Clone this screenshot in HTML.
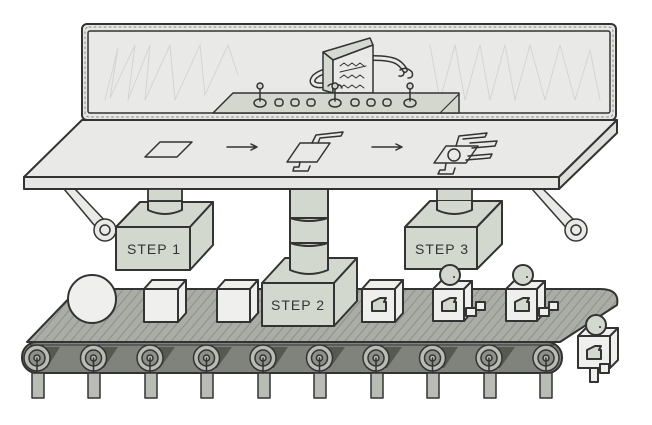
<!DOCTYPE html>
<html><head><meta charset="utf-8"><style>
html,body{margin:0;padding:0;background:#fff;width:652px;height:425px;overflow:hidden}
svg{display:block}
</style></head><body>
<svg width="652" height="425" viewBox="0 0 652 425" xmlns="http://www.w3.org/2000/svg" stroke="#333" stroke-width="1.5" stroke-linejoin="round" stroke-linecap="round">
<defs>
<pattern id="hatch" width="7" height="7" patternUnits="userSpaceOnUse" patternTransform="rotate(40)">
<rect width="7" height="7" fill="#a9ada5" stroke="none"/>
<line x1="0" y1="0" x2="0" y2="7" stroke="#8c9089" stroke-width="2"/>
</pattern>
</defs>
<!-- screen -->
<rect x="82" y="24" width="534" height="96" rx="5" fill="#e6e7e4" stroke-width="2"/>
<rect x="85" y="27" width="528" height="90" rx="4" fill="none" stroke="#888" stroke-dasharray="2 3" stroke-width="1"/>
<rect x="88" y="31" width="522" height="82" rx="2" fill="#e9eae7" stroke-width="1.5"/>
<path d="M105,100 L118,48 L110,98 L135,45 L128,100 L150,45 L145,100 L170,45 L175,100 L200,45 L205,95 L228,45 L238,75 M430,45 L440,100 L455,45 L465,100 L480,45 L490,100 L505,45 L515,100 L530,45 L545,100 L560,45 L575,100 L590,50 L600,100" fill="none" stroke="#d3d5d1" stroke-width="1"/>
<!-- screen robot -->
<path d="M333,70 C310,72 305,88 325,85 L336,88" fill="none" stroke-width="6"/>
<path d="M333,70 C310,72 305,88 325,85 L336,88" fill="none" stroke="#e9eae7" stroke-width="3"/>
<path d="M373,58 C395,58 400,62 405,70" fill="none" stroke-width="6"/>
<path d="M373,58 C395,58 400,62 405,70" fill="none" stroke="#e9eae7" stroke-width="3"/>
<path d="M400,70 q6,-4 12,2 q2,6 -4,6 M404,72 q0,5 -5,4" fill="none" stroke-width="1.5"/>
<polygon points="323,52 370,38 373,45 333,60" fill="#d6d9d2"/>
<polygon points="323,52 333,60 333,93 323,90" fill="#d6d9d2"/>
<polygon points="333,60 373,45 373,93 333,93" fill="#e9eae7"/>
<path d="M340,66 l4,-3 4,3 4,-3 4,3 4,-3 4,3 M340,78 l4,-3 4,3 4,-3 4,3 4,-3 4,3 M340,88 l4,-3 4,3 4,-3 4,3 4,-3 4,3 M340,72 L366,66" fill="none" stroke-width="1"/>
<path d="M328,86 q4,-4 8,0 q4,-3 6,2" fill="#e9eae7" stroke-width="1.5"/>
<!-- console -->
<polygon points="233,93 459,93 459,113 213,113" fill="#d3d7ce"/>
<line x1="440" y1="113" x2="459" y2="94" stroke-width="1.2"/>
<g fill="#d3d7ce">
<ellipse cx="260" cy="103" rx="6" ry="4"/><line x1="260" y1="101" x2="260" y2="89"/><circle cx="260" cy="86" r="3"/>
<ellipse cx="335" cy="103" rx="6" ry="4"/><line x1="335" y1="101" x2="335" y2="89"/><circle cx="335" cy="86" r="3"/>
<ellipse cx="410" cy="103" rx="6" ry="4"/><line x1="410" y1="101" x2="410" y2="89"/><circle cx="410" cy="86" r="3"/>
<rect x="275" y="99" width="8" height="7" rx="3"/><rect x="291" y="99" width="8" height="7" rx="3"/><rect x="307" y="99" width="8" height="7" rx="3"/>
<rect x="351" y="99" width="8" height="7" rx="3"/><rect x="367" y="99" width="8" height="7" rx="3"/><rect x="383" y="99" width="8" height="7" rx="3"/>
</g>
<!-- rods -->
<polygon points="64,189 75,189 110,226 100,232" fill="#e9eae7" stroke="none"/>
<path d="M64,189 L100,232 M75,189 L110,226" fill="none"/>
<circle cx="105" cy="230" r="11" fill="#e9eae7"/><circle cx="105" cy="230" r="5" fill="#e9eae7"/>
<polygon points="532,189 543,189 580,226 570,232" fill="#e9eae7" stroke="none"/>
<path d="M532,189 L570,232 M543,189 L580,226" fill="none"/>
<circle cx="576" cy="230" r="11" fill="#e9eae7"/><circle cx="576" cy="230" r="5" fill="#e9eae7"/>
<!-- table top -->
<polygon points="82,120 617,120 559,177 24,177" fill="#e9eae7" stroke-width="2"/>
<rect x="24" y="177" width="535" height="12" fill="#e6e7e4" stroke-width="2"/>
<polygon points="559,177 617,120 617,133 559,189" fill="#dfe0dc" stroke-width="2"/>
<!-- table icons -->
<polygon points="160,142 192,142 177,157 145,157" fill="none"/>
<path d="M227,147 L257,147 M251,144 L257,147 L251,150" fill="none"/>
<polygon points="300,143 330,143 317,162 287,162" fill="none"/>
<path d="M312,143 L316,135 L343,132 L341,136 L320,138 L318,143 M300,162 L299,167 L294,167 L293,171 L308,171 L310,166" fill="none"/>
<path d="M372,147 L402,147 M396,144 L402,147 L396,150" fill="none"/>
<polygon points="446,146 478,146 466,163 434,163" fill="none"/>
<circle cx="454" cy="155" r="6" fill="none"/><path d="M470,143 L497,141 L495,146 L472,148 M468,156 L492,154 L490,158 L466,160 M456,146 L459,136 L487,133 L485,137 L463,139 M446,163 L445,170 L440,170 L438,174 L453,174 L455,168" fill="none"/>
<!-- pistons -->
<g fill="#d3d8cf" stroke-width="1.8">
<rect x="148" y="189" width="34" height="12"/><path d="M148,201 L182,201 L182,210 Q165,218 148,210 Z"/>
<rect x="437" y="189" width="35" height="12"/><path d="M437,201 L472,201 L472,210 Q454,218 437,210 Z"/>
</g>
<!-- step boxes -->
<g fill="#d3d8cf" stroke-width="2">
<polygon points="116,227 140,202 213,202 190,227"/><polygon points="190,227 213,202 213,245 190,270"/><rect x="116" y="227" width="74" height="43"/>
<path d="M148,202 L148,210 Q165,218 182,210 L182,202" fill="#d3d8cf"/>
<polygon points="405,227 430,201 502,201 477,227"/><polygon points="477,227 502,201 502,244 477,269"/><rect x="405" y="227" width="72" height="42"/>
<path d="M437,201 L437,210 Q454,218 472,210 L472,201" fill="#d3d8cf"/>
</g>
<!-- conveyor -->
<path d="M78,289 L600,289 Q620,289 617,305 L560,342 L27,342 Z" fill="url(#hatch)" stroke-width="2"/>
<rect x="22" y="342" width="540" height="31" rx="15" fill="#7f837c" stroke-width="2"/>
<line x1="30" y1="345" x2="555" y2="345" stroke-width="1"/>
<g fill="#55594f" stroke="none">
<polygon points="45,347 60,347 47,368 40,368"/><polygon points="102,347 118,347 104,368 97,368"/><polygon points="158,347 175,347 160,368 153,368"/><polygon points="215,347 232,347 217,368 210,368"/><polygon points="272,347 288,347 274,368 267,368"/><polygon points="328,347 345,347 330,368 323,368"/><polygon points="385,347 402,347 387,368 380,368"/><polygon points="442,347 458,347 444,368 437,368"/><polygon points="498,347 515,347 500,368 493,368"/>
</g>
<g fill="#b9bcb4" stroke-width="1.5">
<rect x="32" y="373" width="12" height="25"/><rect x="88" y="373" width="12" height="25"/><rect x="145" y="373" width="12" height="25"/><rect x="201" y="373" width="12" height="25"/><rect x="258" y="373" width="12" height="25"/><rect x="314" y="373" width="12" height="25"/><rect x="371" y="373" width="12" height="25"/><rect x="427" y="373" width="12" height="25"/><rect x="484" y="373" width="12" height="25"/><rect x="540" y="373" width="12" height="25"/>
</g>
<g fill="#b9bcb4" stroke-width="1.5">
<g transform="translate(37,358)"><circle r="13"/><circle r="8" fill="#8d9189"/><circle r="3"/><line x1="0" y1="0" x2="0" y2="15"/></g>
<g transform="translate(93.5,358)"><circle r="13"/><circle r="8" fill="#8d9189"/><circle r="3"/><line x1="0" y1="0" x2="0" y2="15"/></g>
<g transform="translate(150,358)"><circle r="13"/><circle r="8" fill="#8d9189"/><circle r="3"/><line x1="0" y1="0" x2="0" y2="15"/></g>
<g transform="translate(206.5,358)"><circle r="13"/><circle r="8" fill="#8d9189"/><circle r="3"/><line x1="0" y1="0" x2="0" y2="15"/></g>
<g transform="translate(263,358)"><circle r="13"/><circle r="8" fill="#8d9189"/><circle r="3"/><line x1="0" y1="0" x2="0" y2="15"/></g>
<g transform="translate(319.5,358)"><circle r="13"/><circle r="8" fill="#8d9189"/><circle r="3"/><line x1="0" y1="0" x2="0" y2="15"/></g>
<g transform="translate(376,358)"><circle r="13"/><circle r="8" fill="#8d9189"/><circle r="3"/><line x1="0" y1="0" x2="0" y2="15"/></g>
<g transform="translate(432.5,358)"><circle r="13"/><circle r="8" fill="#8d9189"/><circle r="3"/><line x1="0" y1="0" x2="0" y2="15"/></g>
<g transform="translate(489,358)"><circle r="13"/><circle r="8" fill="#8d9189"/><circle r="3"/><line x1="0" y1="0" x2="0" y2="15"/></g>
<g transform="translate(546,358)"><circle r="13"/><circle r="8" fill="#8d9189"/><circle r="3"/><line x1="0" y1="0" x2="0" y2="15"/></g>
</g>
<!-- items on belt -->
<circle cx="92" cy="299" r="24" fill="#efefed" stroke-width="2"/>
<g fill="#efefed" stroke-width="2">
<polygon points="144,289 152,280 186,280 178,289"/><polygon points="178,289 186,280 186,313 178,322"/><rect x="144" y="289" width="34" height="33"/>
<polygon points="217,289 225,280 258,280 250,289"/><polygon points="250,289 258,280 258,313 250,322"/><rect x="217" y="289" width="33" height="33"/>
<polygon points="362,289 370,280 403,280 395,289"/><polygon points="395,289 403,280 403,313 395,322"/><rect x="362" y="289" width="33" height="33"/>
</g>
<!-- step 2 -->
<g fill="#d3d8cf" stroke-width="2">
<polygon points="262,283 285,258 357,258 334,283"/><polygon points="334,283 357,258 357,301 334,326"/><rect x="262" y="283" width="72" height="43"/>
<rect x="290" y="189" width="38" height="29"/><path d="M290,218 L328,218 L328,243 L290,243 Z"/><path d="M290,243 L328,243 L328,270 Q309,278 290,270 Z"/>
<path d="M290,218 Q309,224 328,218 M290,243 Q309,249 328,243" fill="none"/>
</g>
<!-- robots -->
<g fill="#efefed" stroke-width="2">
<polygon points="433,289 441,281 472,281 464,289"/><polygon points="464,289 472,281 472,312 464,321"/><rect x="433" y="289" width="31" height="32"/>
<rect x="466" y="308" width="10" height="8"/><rect x="476" y="302" width="9" height="8"/>
<circle cx="450" cy="275" r="10" fill="#d3d8cf"/>
<polygon points="506,289 514,281 545,281 537,289"/><polygon points="537,289 545,281 545,312 537,321"/><rect x="506" y="289" width="31" height="32"/>
<rect x="539" y="308" width="10" height="8"/><rect x="549" y="302" width="9" height="8"/>
<circle cx="523" cy="275" r="10" fill="#d3d8cf"/>
<path d="M372,302 L380,298 L386,298 L384,302 L386,302 L386,311 L372,311 Z" fill="#d3d8cf"/>
<path d="M442,302 L450,298 L456,298 L454,302 L456,302 L456,311 L442,311 Z" fill="#d3d8cf"/>
<path d="M515,302 L523,298 L529,298 L527,302 L529,302 L529,311 L515,311 Z" fill="#d3d8cf"/>
<polygon points="578,336 586,328 618,328 610,336"/><polygon points="610,336 618,328 618,360 610,368"/><rect x="578" y="336" width="32" height="32"/>
<circle cx="596" cy="325" r="10" fill="#d3d8cf"/>
<rect x="590" y="368" width="8" height="14"/><rect x="600" y="364" width="9" height="9"/>
<path d="M587,350 L595,346 L601,346 L599,350 L601,350 L601,359 L587,359 Z" fill="#d3d8cf"/>
</g>
<g fill="#333" stroke="none"><circle cx="454" cy="277" r="1"/><circle cx="527" cy="277" r="1"/><circle cx="600" cy="327" r="1"/></g>
<!-- labels -->
<g font-family="Liberation Sans, sans-serif" font-size="14" fill="#333" stroke="none" letter-spacing="1">
<text x="154" y="254" text-anchor="middle">STEP 1</text>
<text x="298" y="310" text-anchor="middle">STEP 2</text>
<text x="442" y="254" text-anchor="middle">STEP 3</text>
</g>
</svg>
</body></html>
